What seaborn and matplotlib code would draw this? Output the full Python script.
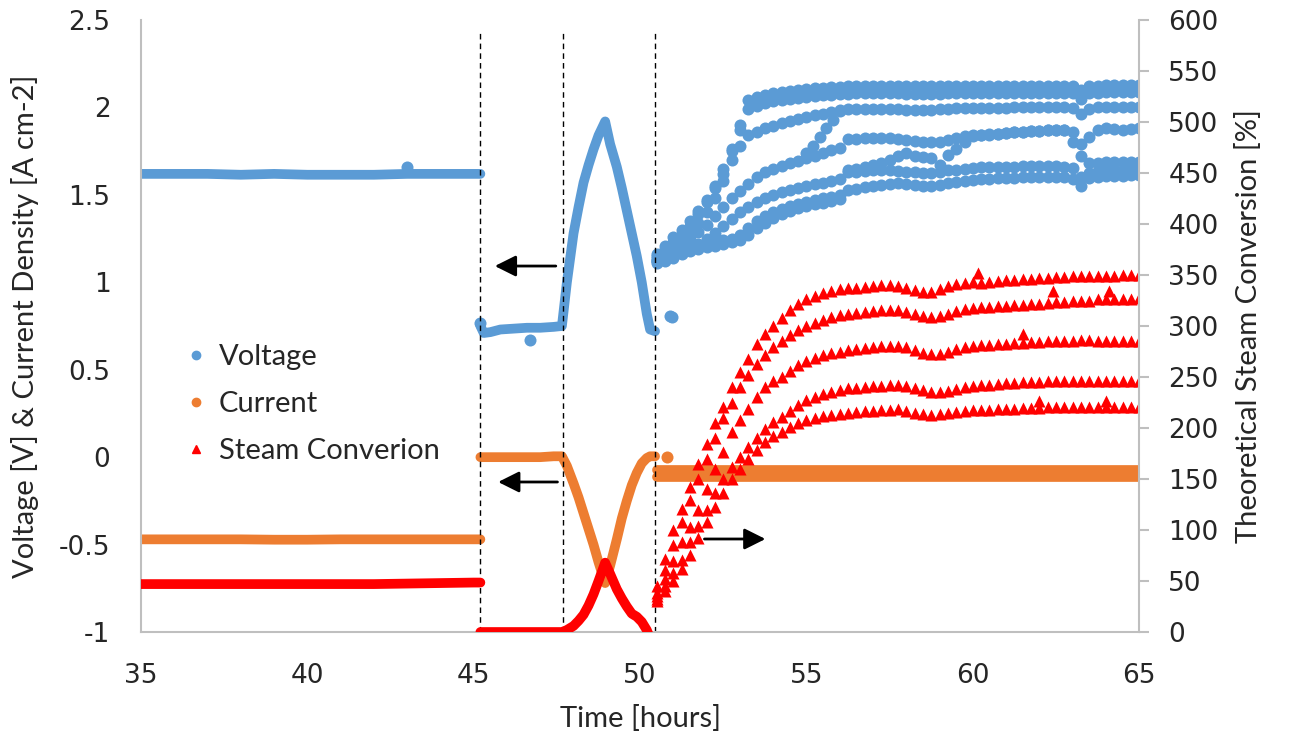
import matplotlib
matplotlib.use('Agg')
import matplotlib.pyplot as plt
import seaborn as sns
from matplotlib.lines import Line2D
from matplotlib.ticker import FuncFormatter

# colores tipo Excel
azul = '#5B9BD5'
naranja = '#ED7D31'
rojo = '#FF0000'
gris = '#BFBFBF'

# ---- tramo izquierdo (35 - 45.2 h) ----
t_izq = [35, 36, 37, 38, 39, 40, 41, 42, 43, 44, 45, 45.2]
volt_izq = [1.62, 1.62, 1.62, 1.615, 1.62, 1.615, 1.615, 1.615, 1.62, 1.62, 1.62, 1.62]
corr_izq = [-0.47, -0.47, -0.47, -0.47, -0.472, -0.472, -0.47, -0.47, -0.47, -0.47, -0.47, -0.47]
conv_izq = [47, 47, 47, 47, 47, 47, 47, 47, 47.5, 48, 48.5, 48.5]

# ---- tramo central (45.2 - 50.45 h) ----
t_cen = [45.2, 45.3, 45.5, 45.8, 46.2, 46.6, 47.0, 47.4, 47.65, 47.8, 48.0, 48.15, 48.3, 48.45,
         48.6, 48.75, 48.95, 49.1, 49.3, 49.45, 49.6, 49.75, 49.9, 50.05, 50.2, 50.3, 50.45]
volt_cen = [0.75, 0.71, 0.715, 0.73, 0.735, 0.74, 0.74, 0.745, 0.75, 1.0, 1.28, 1.43, 1.57, 1.67,
            1.76, 1.84, 1.92, 1.79, 1.66, 1.54, 1.41, 1.28, 1.15, 1.0, 0.82, 0.73, 0.72]
corr_cen = [0.0, 0.0, 0.0, 0.0, 0.0, 0.0, 0.0, 0.005, 0.005, -0.05, -0.15, -0.23, -0.32, -0.41,
            -0.5, -0.6, -0.72, -0.62, -0.47, -0.35, -0.25, -0.16, -0.09, -0.035, -0.005, 0.005, 0.005]
t_conv_cen = [45.2, 45.5, 46.0, 46.5, 47.0, 47.4, 47.65, 47.8, 48.0, 48.15, 48.3, 48.45, 48.6,
              48.75, 48.95, 49.1, 49.3, 49.45, 49.6, 49.75, 49.9, 50.05, 50.2, 50.3]
conv_cen = [0, 0, 0, 0, 0, 0, 0, 2, 6, 11, 17, 26, 37,
            50, 68, 57, 42, 33, 25, 18, 15, 10, 2, -6]

# ---- tramo derecho (50.5 - 65 h), ciclos ----
t_der = [50.5, 50.75, 51.0, 51.25, 51.5, 51.75, 52.0, 52.25, 52.5, 52.75,
         53.0, 53.25, 53.5, 53.75, 54.0, 54.25, 54.5, 54.75, 55.0, 55.25,
         55.5, 55.75, 56.0, 56.25, 56.5, 56.75, 57.0, 57.25, 57.5, 57.75,
         58.0, 58.25, 58.5, 58.75, 59.0, 59.25, 59.5, 59.75, 60.0, 60.25,
         60.5, 60.75, 61.0, 61.25, 61.5, 61.75, 62.0, 62.25, 62.5, 62.75,
         63.0, 63.25, 63.5, 63.75, 64.0, 64.25, 64.5, 64.75, 65.0]

volt_a = [1.16, 1.21, 1.26, 1.30, 1.35, 1.41, 1.47, 1.54, 1.62, 1.75,
          1.90, 2.04, 2.06, 2.07, 2.08, 2.09, 2.095, 2.10, 2.105, 2.11,
          2.11, 2.115, 2.115, 2.12, 2.12, 2.12, 2.122, 2.122, 2.122, 2.122,
          2.12, 2.12, 2.12, 2.12, 2.122, 2.122, 2.122, 2.124, 2.124, 2.124,
          2.124, 2.124, 2.125, 2.125, 2.125, 2.125, 2.125, 2.125, 2.125, 2.125,
          2.12, 2.10, 2.12, 2.125, 2.127, 2.127, 2.127, 2.127, 2.127]
volt_b = [1.15, 1.19, 1.23, 1.27, 1.32, 1.39, 1.46, 1.55, 1.65, 1.76,
          1.87, 1.99, 2.01, 2.025, 2.035, 2.045, 2.05, 2.055, 2.06, 2.065,
          2.07, 2.07, 2.075, 2.078, 2.08, 2.08, 2.08, 2.08, 2.08, 2.08,
          2.078, 2.078, 2.076, 2.076, 2.078, 2.08, 2.08, 2.08, 2.082, 2.082,
          2.082, 2.082, 2.083, 2.083, 2.083, 2.083, 2.084, 2.084, 2.084, 2.084,
          2.08, 2.05, 2.08, 2.084, 2.086, 2.086, 2.086, 2.086, 2.086]
volt_c = [1.14, 1.17, 1.21, 1.25, 1.29, 1.34, 1.40, 1.48, 1.58, 1.70,
          1.78, 1.84, 1.86, 1.88, 1.895, 1.91, 1.925, 1.935, 1.945, 1.955,
          1.965, 1.975, 1.985, 1.99, 1.99, 1.99, 1.99, 1.99, 1.99, 1.99,
          1.988, 1.988, 1.988, 1.988, 1.99, 1.992, 1.994, 1.995, 1.996, 1.997,
          1.998, 1.998, 1.999, 2.0, 2.0, 2.0, 2.0, 2.0, 2.0, 2.0,
          1.995, 1.965, 1.99, 2.0, 2.002, 2.003, 2.004, 2.005, 2.005]
volt_d = [1.13, 1.15, 1.18, 1.21, 1.25, 1.29, 1.33, 1.38, 1.43, 1.48,
          1.52, 1.56, 1.60, 1.63, 1.65, 1.665, 1.68, 1.695, 1.71, 1.725,
          1.74, 1.755, 1.77, 1.82, 1.822, 1.825, 1.825, 1.825, 1.823, 1.82,
          1.815, 1.81, 1.805, 1.80, 1.805, 1.815, 1.825, 1.835, 1.84, 1.845,
          1.85, 1.85, 1.855, 1.86, 1.86, 1.865, 1.865, 1.87, 1.87, 1.87,
          1.86, 1.79, 1.83, 1.87, 1.885, 1.875, 1.87, 1.875, 1.88]
volt_d2 = [1.12, 1.14, 1.16, 1.18, 1.20, 1.22, 1.25, 1.28, 1.32, 1.36,
           1.40, 1.43, 1.46, 1.48, 1.50, 1.515, 1.53, 1.54, 1.55, 1.56,
           1.57, 1.58, 1.59, 1.64, 1.65, 1.66, 1.67, 1.68, 1.70, 1.72,
           1.74, 1.72, 1.715, 1.71, 1.67, 1.73, 1.765, 1.80, 1.835, 1.84,
           1.845, 1.85, 1.855, 1.86, 1.86, 1.865, 1.865, 1.87, 1.87, 1.87,
           1.80, 1.72, 1.685, 1.685, 1.688, 1.688, 1.688, 1.69, 1.69]
volt_e = [1.12, 1.13, 1.15, 1.17, 1.19, 1.21, 1.22, 1.23, 1.24, 1.25,
          1.27, 1.31, 1.35, 1.38, 1.40, 1.42, 1.435, 1.45, 1.46, 1.47,
          1.48, 1.49, 1.50, 1.63, 1.632, 1.635, 1.64, 1.64, 1.64, 1.635,
          1.63, 1.628, 1.625, 1.625, 1.63, 1.64, 1.645, 1.65, 1.655, 1.658,
          1.66, 1.66, 1.662, 1.662, 1.665, 1.665, 1.665, 1.665, 1.665, 1.662,
          1.655, 1.60, 1.625, 1.635, 1.64, 1.64, 1.64, 1.645, 1.645]
volt_f = [1.11, 1.12, 1.14, 1.16, 1.18, 1.19, 1.20, 1.21, 1.22, 1.23,
          1.24, 1.27, 1.31, 1.34, 1.37, 1.39, 1.41, 1.425, 1.435, 1.445,
          1.455, 1.465, 1.475, 1.53, 1.535, 1.545, 1.55, 1.555, 1.56, 1.565,
          1.56, 1.555, 1.55, 1.55, 1.555, 1.565, 1.575, 1.58, 1.585, 1.59,
          1.59, 1.595, 1.595, 1.598, 1.60, 1.60, 1.60, 1.60, 1.60, 1.60,
          1.59, 1.55, 1.595, 1.605, 1.61, 1.61, 1.61, 1.612, 1.615]

# puntos sueltos de voltaje
t_volt_sueltos = [43.0, 45.2, 46.7, 50.9, 50.95, 55.0, 55.2, 55.4, 55.6, 55.8, 56.0]
volt_sueltos = [1.66, 0.77, 0.67, 0.81, 0.80, 1.74, 1.78, 1.83, 1.88, 1.93, 1.98]

# corriente en el tramo derecho (banda)
t_corr_der = [50.5, 51, 52, 53, 54, 55, 56, 57, 58, 59, 60, 61, 62, 63, 64, 65]
corr_der_1 = [-0.075, -0.075, -0.075, -0.075, -0.075, -0.075, -0.075, -0.075,
              -0.075, -0.075, -0.075, -0.075, -0.075, -0.075, -0.075, -0.075]
corr_der_2 = [-0.115, -0.115, -0.115, -0.115, -0.115, -0.115, -0.115, -0.115,
              -0.115, -0.115, -0.115, -0.115, -0.115, -0.115, -0.115, -0.115]
t_corr_sueltos = [50.8]
corr_sueltos = [0.0]

# conversion de vapor [%] (eje derecho)
conv_1 = [45, 72, 100, 121, 142, 165, 184, 205, 221, 240,
          255, 268, 282, 292, 300, 308, 316, 322, 326, 329,
          332, 334, 336, 337, 337, 338, 339, 340, 340, 339,
          337, 335, 333, 333, 336, 339, 341, 342, 343, 342,
          343, 344, 345, 345, 346, 346, 347, 347, 348, 348,
          349, 349, 349, 349, 349, 349, 350, 350, 350]
conv_2 = [38, 61, 85, 108, 129, 150, 170, 190, 210, 225,
          240, 252, 263, 272, 279, 285, 291, 296, 300, 303,
          306, 309, 311, 312, 313, 314, 315, 316, 316, 316,
          314, 312, 310, 309, 310, 312, 315, 317, 318, 319,
          319, 320, 320, 321, 321, 322, 322, 323, 324, 324,
          325, 325, 325, 326, 326, 326, 326, 326, 327]
conv_3 = [32, 52, 70, 88, 103, 120, 140, 160, 176, 196,
          208, 219, 230, 240, 246, 250, 256, 262, 266, 269,
          272, 274, 275, 276, 277, 278, 279, 280, 280, 280,
          279, 276, 274, 273, 273, 275, 277, 279, 280, 281,
          281, 282, 282, 283, 283, 284, 284, 285, 285, 285,
          285, 286, 286, 285, 285, 285, 285, 285, 285]
conv_4 = [35, 45, 58, 71, 88, 104, 120, 136, 150, 162,
          172, 181, 190, 199, 206, 211, 217, 223, 227, 230,
          233, 235, 237, 239, 239, 240, 241, 241, 242, 242,
          241, 239, 237, 235, 235, 236, 238, 240, 241, 242,
          242, 243, 244, 244, 245, 245, 245, 246, 246, 246,
          246, 246, 246, 246, 246, 246, 246, 246, 246]
conv_5 = [30, 40, 50, 62, 76, 92, 108, 123, 136, 150,
          160, 170, 178, 186, 192, 196, 201, 205, 208, 210,
          212, 213, 214, 215, 216, 217, 217, 218, 218, 219,
          217, 215, 214, 213, 214, 215, 216, 217, 218, 218,
          218, 219, 219, 219, 220, 220, 220, 221, 221, 221,
          221, 221, 221, 221, 221, 221, 221, 221, 221]
t_conv_sueltos = [60.15, 62.4, 64.1, 61.5, 62.0, 64.0]
conv_sueltos = [352, 334, 334, 292, 226, 226]

# lineas de corte
cortes = [45.2, 47.68, 50.45]

# ---- figura ----
sns.set_style('white')
plt.rcParams['font.family'] = ['DejaVu Sans']

fig = plt.figure(figsize=(12.9, 7.38), dpi=100)
ax = fig.add_axes([0.1093, 0.1436, 0.7738, 0.8293])
ax2 = ax.twinx()

ancho = 7
# tramos continuos
for t, v, c in [(t_izq, volt_izq, azul), (t_cen, volt_cen, azul),
                (t_izq, corr_izq, naranja), (t_cen, corr_cen, naranja),
                (t_corr_der, corr_der_1, naranja), (t_corr_der, corr_der_2, naranja)]:
    sns.lineplot(x=t, y=v, ax=ax, color=c, lw=ancho, estimator=None, sort=False,
                 solid_capstyle='round')
for t, v in [(t_izq, conv_izq), (t_conv_cen, conv_cen)]:
    sns.lineplot(x=t, y=v, ax=ax2, color=rojo, lw=ancho, estimator=None, sort=False,
                 solid_capstyle='round')

# puntos del tramo derecho
tam = 75
for v in [volt_a, volt_b, volt_c, volt_d, volt_d2, volt_e, volt_f]:
    sns.scatterplot(x=t_der, y=v, ax=ax, color=azul, s=tam, linewidth=0)
sns.scatterplot(x=t_volt_sueltos, y=volt_sueltos, ax=ax, color=azul, s=tam, linewidth=0)
sns.scatterplot(x=t_corr_sueltos, y=corr_sueltos, ax=ax, color=naranja, s=tam, linewidth=0)
for v in [conv_1, conv_2, conv_3, conv_4, conv_5]:
    sns.scatterplot(x=t_der, y=v, ax=ax2, color=rojo, marker='^', s=tam, linewidth=0)
sns.scatterplot(x=t_conv_sueltos, y=conv_sueltos, ax=ax2, color=rojo, marker='^', s=tam, linewidth=0)

# lineas verticales discontinuas
for x in cortes:
    ax.axvline(x, ymin=0, ymax=0.98, color='black', lw=1, ls=(0, (4, 3)))

# flechas
flecha = dict(arrowstyle='-|>', color='black', lw=2, mutation_scale=32)
ax.annotate('', xy=(45.55, 1.093), xytext=(47.55, 1.093), arrowprops=flecha)
ax.annotate('', xy=(45.65, -0.142), xytext=(47.6, -0.142), arrowprops=flecha)
ax.annotate('', xy=(53.85, -0.468), xytext=(51.85, -0.468), arrowprops=flecha)

# ejes
ax.set_xlim(35, 65)
ax.set_ylim(-1, 2.5)
ax2.set_ylim(0, 600)
ax.set_xticks([35, 40, 45, 50, 55, 60, 65])
ax.set_yticks([-1, -0.5, 0, 0.5, 1, 1.5, 2, 2.5])
ax2.set_yticks(list(range(0, 601, 50)))
ax.yaxis.set_major_formatter(FuncFormatter(lambda v, p: '%g' % v))

for a in (ax, ax2):
    for s in a.spines.values():
        s.set_visible(False)
ax.spines['left'].set_visible(True)
ax.spines['bottom'].set_visible(True)
ax2.spines['right'].set_visible(True)
for s in (ax.spines['left'], ax.spines['bottom'], ax2.spines['right']):
    s.set_color(gris)
    s.set_linewidth(1.5)

ax.tick_params(axis='both', length=0, labelsize=19, pad=22)
ax2.tick_params(axis='y', length=7, width=1.5, color=gris, labelsize=19, pad=14)

ax.set_xlabel('Time [hours]', fontfamily='Lato', fontsize=21, labelpad=12)
ax.set_ylabel('Voltage [V] & Current Density [A cm-2]', fontfamily='Lato', fontsize=21, labelpad=14)
ax2.set_ylabel('Theoretical Steam Conversion [%]', fontfamily='Lato', fontsize=21, labelpad=12)

# leyenda
marcas = [Line2D([], [], ls='', marker='o', color=azul, ms=6),
          Line2D([], [], ls='', marker='o', color=naranja, ms=6),
          Line2D([], [], ls='', marker='^', color=rojo, ms=6)]
ax2.legend(marcas, ['Voltage', 'Current', 'Steam Converion'], loc='center left',
           bbox_to_anchor=(0.03, 0.372), frameon=False,
           prop={'family': 'Lato', 'size': 21}, handlelength=0.7,
           handletextpad=0.45, labelspacing=0.72, borderpad=0)

fig.savefig('out.png', dpi=100)
